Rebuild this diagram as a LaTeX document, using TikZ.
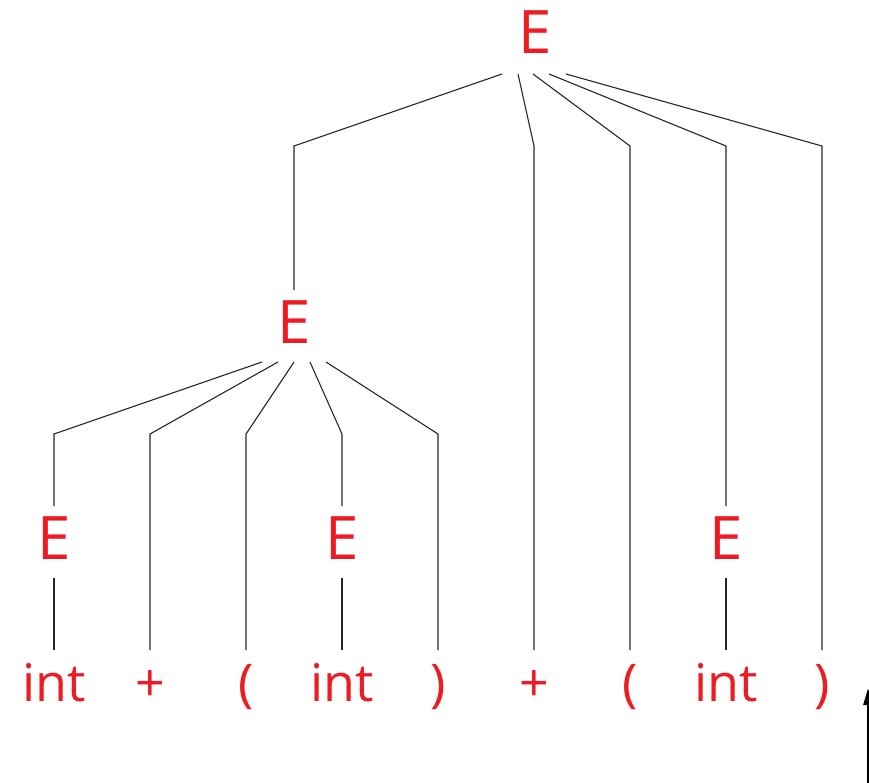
\documentclass[tikz,border=0pt]{standalone}
\usepackage{fontspec}
\setmainfont{Open Sans}
\usetikzlibrary{arrows.meta}
\definecolor{tred}{RGB}{237,28,36}
\begin{document}
\begin{tikzpicture}[x=1pt,y=-1pt,
  nt/.style={text=tred,font=\fontsize{60}{60}\selectfont,anchor=base,inner sep=0pt},
  lf/.style={text=tred,font=\fontsize{52}{52}\selectfont,anchor=base,inner sep=0pt},
  edge/.style={draw=black!85,line width=1.1pt}]
\useasboundingbox (0,0) rectangle (869,783);
% nodes
\node[nt] (E0) at (535,54) {E};
\node[nt] (E1) at (294,343) {E};
\node[nt] (E2) at (54,559) {E};
\node[nt] (E3) at (342,559) {E};
\node[nt] (E4) at (726,559) {E};
\node[lf] (l1) at (54,701) {int};
\node[lf] (l2) at (150,701) {+};
\node[lf] (l3) at (246,701) {(};
\node[lf] (l4) at (342,701) {int};
\node[lf] (l5) at (438,701) {)};
\node[lf] (l6) at (534,701) {+};
\node[lf] (l7) at (630,701) {(};
\node[lf] (l8) at (726,701) {int};
\node[lf] (l9) at (822,701) {)};
% connector points
\coordinate (a1) at (502,74); \coordinate (a2) at (518,74); \coordinate (a3) at (533,74);
\coordinate (a4) at (549,74); \coordinate (a5) at (566,74);
\coordinate (ka1) at (294,146); \coordinate (ka2) at (534,146); \coordinate (ka3) at (630,146);
\coordinate (ka4) at (726,146); \coordinate (ka5) at (822,146);
\coordinate (ta1) at (294,290); \coordinate (ta2) at (534,650); \coordinate (ta3) at (630,650);
\coordinate (ta4) at (726,506); \coordinate (ta5) at (822,650);
\coordinate (b1) at (262,362); \coordinate (b2) at (278,362); \coordinate (b3) at (294,362);
\coordinate (b4) at (310,362); \coordinate (b5) at (326,362);
\coordinate (kb1) at (54,434); \coordinate (kb2) at (150,434); \coordinate (kb3) at (246,434);
\coordinate (kb4) at (342,434); \coordinate (kb5) at (438,434);
\coordinate (tb1) at (54,506); \coordinate (tb2) at (150,650); \coordinate (tb3) at (246,650);
\coordinate (tb4) at (342,506); \coordinate (tb5) at (438,650);
\coordinate (c2) at (54,578); \coordinate (d2) at (54,650);
\coordinate (c3) at (342,578); \coordinate (d3) at (342,650);
\coordinate (c4) at (726,578); \coordinate (d4) at (726,650);
% edges
\foreach \i in {1,...,5} {
  \draw[edge] (a\i) -- (ka\i) -- (ta\i);
  \draw[edge] (b\i) -- (kb\i) -- (tb\i);
}
\draw[edge] (c2) -- (d2);
\draw[edge] (c3) -- (d3);
\draw[edge] (c4) -- (d4);
% arrow at right edge
\coordinate (arS) at (868,790);
\coordinate (arT) at (868,688);
\draw[line width=2.6pt,-{Triangle[length=17pt,width=9pt]}] (arS) -- (arT);
\end{tikzpicture}
\end{document}
